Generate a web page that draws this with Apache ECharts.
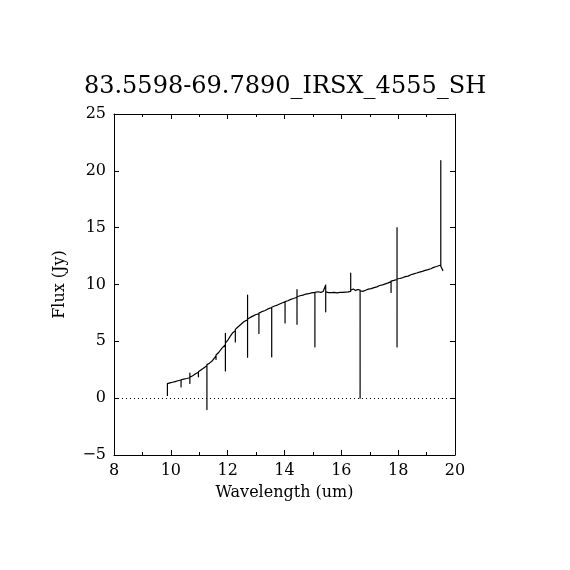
<!DOCTYPE html>
<html lang="en">
  <head>
    <meta charset="UTF-8" />
    <title>83.5598-69.7890_IRSX_4555_SH</title>
    <script src="https://cdn.jsdelivr.net/npm/echarts@6/dist/echarts.min.js"></script>
  </head>
  <style>
    body,
    html {
      margin: 0;
      height: 100%;
      background: #fff;
    }
  </style>
  <body>
    <div id="chart" style="width:570px;height:570px"></div>
  </body>
  <script>
    var titleText = "83.5598-69.7890_IRSX_4555_SH";
    var xTicks = [8, 10, 12, 14, 16, 18, 20];
    var yTicks = [-5, 0, 5, 10, 15, 20, 25];

    // spectrum (a spike = same wavelength repeated)
    var wavelength = [
      9.88, 9.88, 9.97, 10.06, 10.15, 10.25, 10.36, 10.36, 10.36, 10.46,
      10.56, 10.67, 10.67, 10.67, 10.67, 10.77, 10.87, 10.97, 10.97, 10.97,
      11.07, 11.17, 11.27, 11.27, 11.27, 11.36, 11.47, 11.59, 11.59, 11.59,
      11.69, 11.8, 11.92, 11.92, 11.92, 11.92, 11.92, 12.02, 12.1, 12.18,
      12.27, 12.27, 12.27, 12.36, 12.46, 12.58, 12.7, 12.7, 12.7, 12.7,
      12.8, 12.9, 13.0, 13.1, 13.1, 13.1, 13.2, 13.3, 13.4, 13.55,
      13.55, 13.55, 13.65, 13.75, 13.85, 13.93, 14.02, 14.02, 14.02, 14.12,
      14.22, 14.32, 14.44, 14.44, 14.44, 14.44, 14.55, 14.65, 14.75, 14.85,
      14.95, 15.07, 15.07, 15.07, 15.18, 15.28, 15.36, 15.45, 15.45, 15.45,
      15.55, 15.65, 15.75, 15.85, 15.95, 16.05, 16.15, 16.24, 16.33, 16.33,
      16.33, 16.42, 16.5, 16.58, 16.66, 16.66, 16.66, 16.66, 16.66, 16.75,
      16.85, 16.95, 17.05, 17.15, 17.25, 17.35, 17.45, 17.55, 17.65, 17.75,
      17.75, 17.75, 17.85, 17.96, 17.96, 17.96, 17.96, 18.05, 18.15, 18.25,
      18.35, 18.45, 18.55, 18.65, 18.75, 18.85, 18.95, 19.05, 19.15, 19.25,
      19.35, 19.42, 19.5, 19.5, 19.5, 19.5, 19.58
    ];
    var flux = [
      0.2, 1.28, 1.34, 1.4, 1.46, 1.53, 1.6, 0.99, 1.62, 1.68,
      1.73, 1.8, 1.3, 2.2, 1.84, 1.97, 2.14, 2.28, 1.88, 2.32,
      2.5, 2.68, 2.85, -1.0, 2.95, 3.08, 3.32, 3.72, 3.4, 3.8,
      4.04, 4.4, 4.7, 5.7, 4.2, 2.4, 4.85, 5.16, 5.48, 5.76,
      5.94, 4.95, 6.05, 6.26, 6.48, 6.74, 6.89, 9.06, 3.6, 6.95,
      7.11, 7.24, 7.36, 7.41, 5.7, 7.48, 7.61, 7.69, 7.83, 7.98,
      3.63, 8.0, 8.11, 8.19, 8.31, 8.39, 8.47, 6.62, 8.5, 8.57,
      8.69, 8.77, 8.88, 9.56, 6.5, 8.92, 9.01, 9.07, 9.16, 9.19,
      9.26, 9.3, 4.5, 9.3, 9.36, 9.31, 9.38, 9.95, 7.6, 9.35,
      9.29, 9.28, 9.31, 9.27, 9.3, 9.31, 9.33, 9.35, 9.4, 11.0,
      9.5, 9.6, 9.48, 9.56, 9.5, 4.8, 9.5, 0.0, 9.45, 9.4,
      9.49, 9.59, 9.64, 9.73, 9.79, 9.91, 9.97, 10.06, 10.14, 10.25,
      9.3, 10.3, 10.36, 10.44, 15.0, 4.5, 10.5, 10.53, 10.59, 10.69,
      10.74, 10.86, 10.94, 11.01, 11.09, 11.16, 11.24, 11.31, 11.39, 11.51,
      11.58, 11.7, 11.72, 16.3, 20.9, 11.6, 11.2
    ];

    var serif = "DejaVu Serif";
    var spectrum = wavelength.map(function(w, i) {
      return [w, flux[i]];
    });

    var commonX = {
      type: "value",
      min: 8,
      max: 20,
      interval: 2,
      axisLine: { show: true, onZero: false, lineStyle: { color: "#000", width: 1 } },
      axisTick: { show: true, inside: true, length: 5, lineStyle: { color: "#000" } },
      minorTick: { show: true, splitNumber: 2, length: 3, lineStyle: { color: "#000" } },
      splitLine: { show: false }
    };
    var commonY = {
      type: "value",
      min: -5,
      max: 25,
      interval: 5,
      axisLine: { show: true, onZero: false, lineStyle: { color: "#000", width: 1 } },
      axisTick: { show: true, inside: true, length: 5, lineStyle: { color: "#000" } },
      splitLine: { show: false }
    };

    var option = {
      backgroundColor: "#fff",
      animation: false,
      title: {
        text: titleText,
        left: "center",
        top: 70,
        textStyle: { fontFamily: serif, fontSize: 24, fontWeight: "normal", color: "#000" }
      },
      grid: { left: 114, right: 115, top: 114, bottom: 115 },
      xAxis: [
        Object.assign({}, commonX, {
          position: "bottom",
          name: "Wavelength (um)",
          nameLocation: "middle",
          nameGap: 30,
          nameTextStyle: { fontFamily: serif, fontSize: 16, color: "#000" },
          axisLabel: {
            margin: 8,
            fontFamily: serif,
            fontSize: 16,
            color: "#000",
            formatter: function(v) {
              return xTicks.indexOf(v) >= 0 ? String(v) : "";
            }
          }
        }),
        Object.assign({}, commonX, { position: "top", axisLabel: { show: false } })
      ],
      yAxis: [
        Object.assign({}, commonY, {
          position: "left",
          name: "Flux (Jy)",
          nameLocation: "middle",
          nameGap: 46,
          nameTextStyle: { fontFamily: serif, fontSize: 16, color: "#000" },
          axisLabel: {
            margin: 8,
            fontFamily: serif,
            fontSize: 16,
            color: "#000",
            formatter: function(v) {
              return yTicks.indexOf(v) >= 0 ? String(v).replace("-", "\u2212") : "";
            }
          }
        }),
        Object.assign({}, commonY, { position: "right", axisLabel: { show: false } })
      ],
      series: [
        {
          type: "line",
          data: spectrum,
          showSymbol: false,
          lineStyle: { color: "#000", width: 1.2, join: "round", cap: "butt" },
          markLine: {
            silent: true,
            symbol: "none",
            label: { show: false },
            lineStyle: { color: "#000", type: [1, 3], width: 1 },
            data: [{ yAxis: 0 }]
          }
        }
      ]
    };

    var chart = echarts.init(document.querySelector("#chart"));
    chart.setOption(option);
  </script>
</html>
